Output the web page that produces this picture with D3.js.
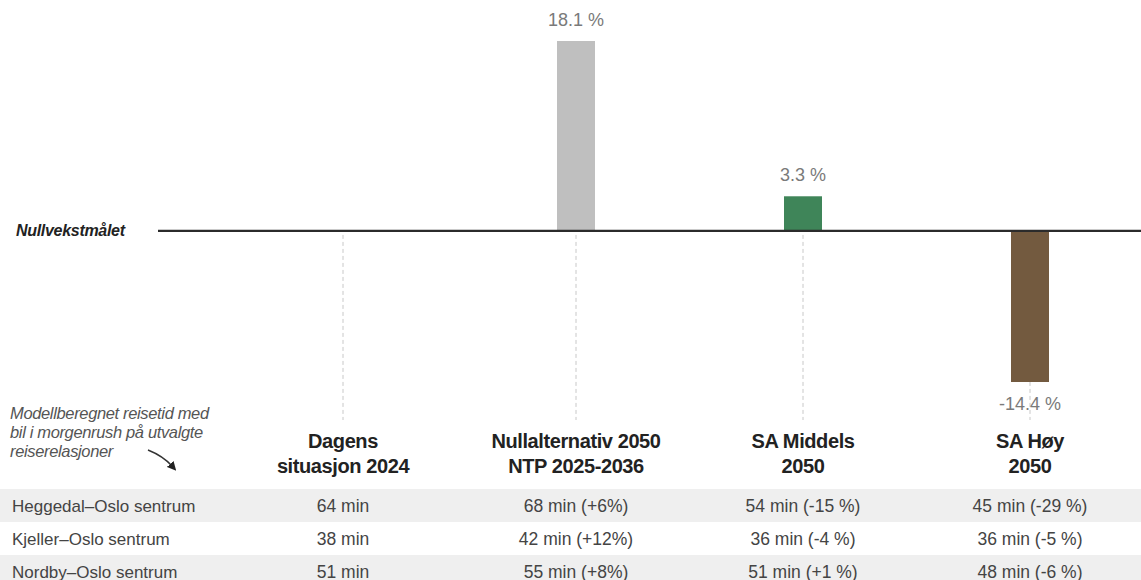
<!DOCTYPE html>
<html><head><meta charset="utf-8">
<script src="https://cdn.jsdelivr.net/npm/d3@7"></script>
<style>body{margin:0;background:#fff}svg{display:block}</style>
</head><body>
<svg id="c" width="1141" height="580"></svg>
<script>
const categories = ["Dagens|situasjon 2024", "Nullalternativ 2050|NTP 2025-2036", "SA Middels|2050", "SA Høy|2050"];
const values = [0, 18.1, 3.3, -14.4];
const valueLabels = ["", "18.1 %", "3.3 %", "-14.4 %"];
const colors = ["#bfbfbf", "#bfbfbf", "#3f8559", "#735a3f"];
const rowLabels = ["Heggedal–Oslo sentrum", "Kjeller–Oslo sentrum", "Nordby–Oslo sentrum"];
const tableRows = [
  ["64 min", "68 min (+6%)", "54 min (-15 %)", "45 min (-29 %)"],
  ["38 min", "42 min (+12%)", "36 min (-4 %)", "36 min (-5 %)"],
  ["51 min", "55 min (+8%)", "51 min (+1 %)", "48 min (-6 %)"]
];
const noteLines = ["Modellberegnet reisetid med", "bil i morgenrush på utvalgte", "reiserelasjoner"];

const svg = d3.select("#c");
const font = "'Liberation Sans Narrow','Liberation Sans',Arial,sans-serif";
const sans = "'Liberation Sans',Arial,sans-serif";
const x = d3.scaleOrdinal().domain(categories).range([343, 576, 803, 1030]);
const y = d3.scaleLinear().domain([-14.4, 18.1]).range([382, 41]);
const barW = 38;

// dashed guides
svg.selectAll("line.guide").data(categories).join("line")
  .attr("x1", d => x(d)).attr("x2", d => x(d))
  .attr("y1", y(0) + 4).attr("y2", 420)
  .attr("stroke", "#c8c8c8").attr("stroke-dasharray", "4,3").attr("stroke-width", 1);

// bars
svg.selectAll("rect.bar").data(values).join("rect")
  .attr("x", (d, i) => x(categories[i]) - barW / 2)
  .attr("width", barW)
  .attr("y", d => y(Math.max(0, d)))
  .attr("height", d => Math.abs(y(d) - y(0)))
  .attr("fill", (d, i) => colors[i]);

// zero line
svg.append("line").attr("x1", 158).attr("x2", 1141).attr("y1", y(0)).attr("y2", y(0))
  .attr("stroke", "#2b2b2b").attr("stroke-width", 2.4);
svg.append("text").attr("x", 16).attr("y", y(0) + 5).text("Nullvekstmålet")
  .attr("font-family", sans).attr("font-style", "italic").attr("font-weight", "bold")
  .attr("font-size", 16).attr("fill", "#222").attr("letter-spacing", -0.3);

// value labels
svg.selectAll("text.val").data(values).join("text")
  .attr("x", (d, i) => x(categories[i]))
  .attr("y", d => d >= 0 ? y(d) - 15 : y(d) + 28)
  .attr("text-anchor", "middle").attr("font-family", sans)
  .attr("font-size", 18).attr("fill", "#7a7a7a")
  .text((d, i) => valueLabels[i]);

// category headers
categories.forEach(c => {
  const t = svg.append("text").attr("text-anchor", "middle").attr("font-family", font)
    .attr("font-size", 20).attr("fill", "#222").attr("font-weight", "bold").attr("letter-spacing", -0.4);
  c.split("|").forEach((l, j) => t.append("tspan").attr("x", x(c)).attr("y", 448 + j * 25).text(l));
});

// note
noteLines.forEach((l, i) => svg.append("text").attr("x", 10).attr("y", 419 + i * 19).text(l)
  .attr("font-family", sans).attr("font-style", "italic").attr("font-size", 16.5)
  .attr("fill", "#555").attr("letter-spacing", -0.35));
svg.append("defs").append("marker").attr("id", "ah").attr("viewBox", "0 0 10 10").attr("refX", 3).attr("refY", 5)
  .attr("markerWidth", 6).attr("markerHeight", 6).attr("orient", "auto")
  .append("path").attr("d", "M0,0L10,5L0,10Z").attr("fill", "#222");
svg.append("path").attr("d", "M148,450 Q163,456 172,466").attr("fill", "none").attr("stroke", "#333")
  .attr("stroke-width", 1.5).attr("marker-end", "url(#ah)");

// table
const rowH = 33, top0 = 489;
rowLabels.forEach((r, i) => {
  if (i % 2 === 0) svg.append("rect").attr("x", 0).attr("y", top0 + i * rowH).attr("width", 1141).attr("height", rowH).attr("fill", "#efefef");
  svg.append("text").attr("x", 12).attr("y", top0 + i * rowH + 23).text(r)
    .attr("font-family", sans).attr("font-size", 17).attr("fill", "#444");
  tableRows[i].forEach((v, j) => svg.append("text").attr("x", x(categories[j])).attr("y", top0 + i * rowH + 23)
    .attr("text-anchor", "middle").text(v)
    .attr("font-family", sans).attr("font-size", 17.5).attr("fill", "#444"));
});
</script>
</body></html>
